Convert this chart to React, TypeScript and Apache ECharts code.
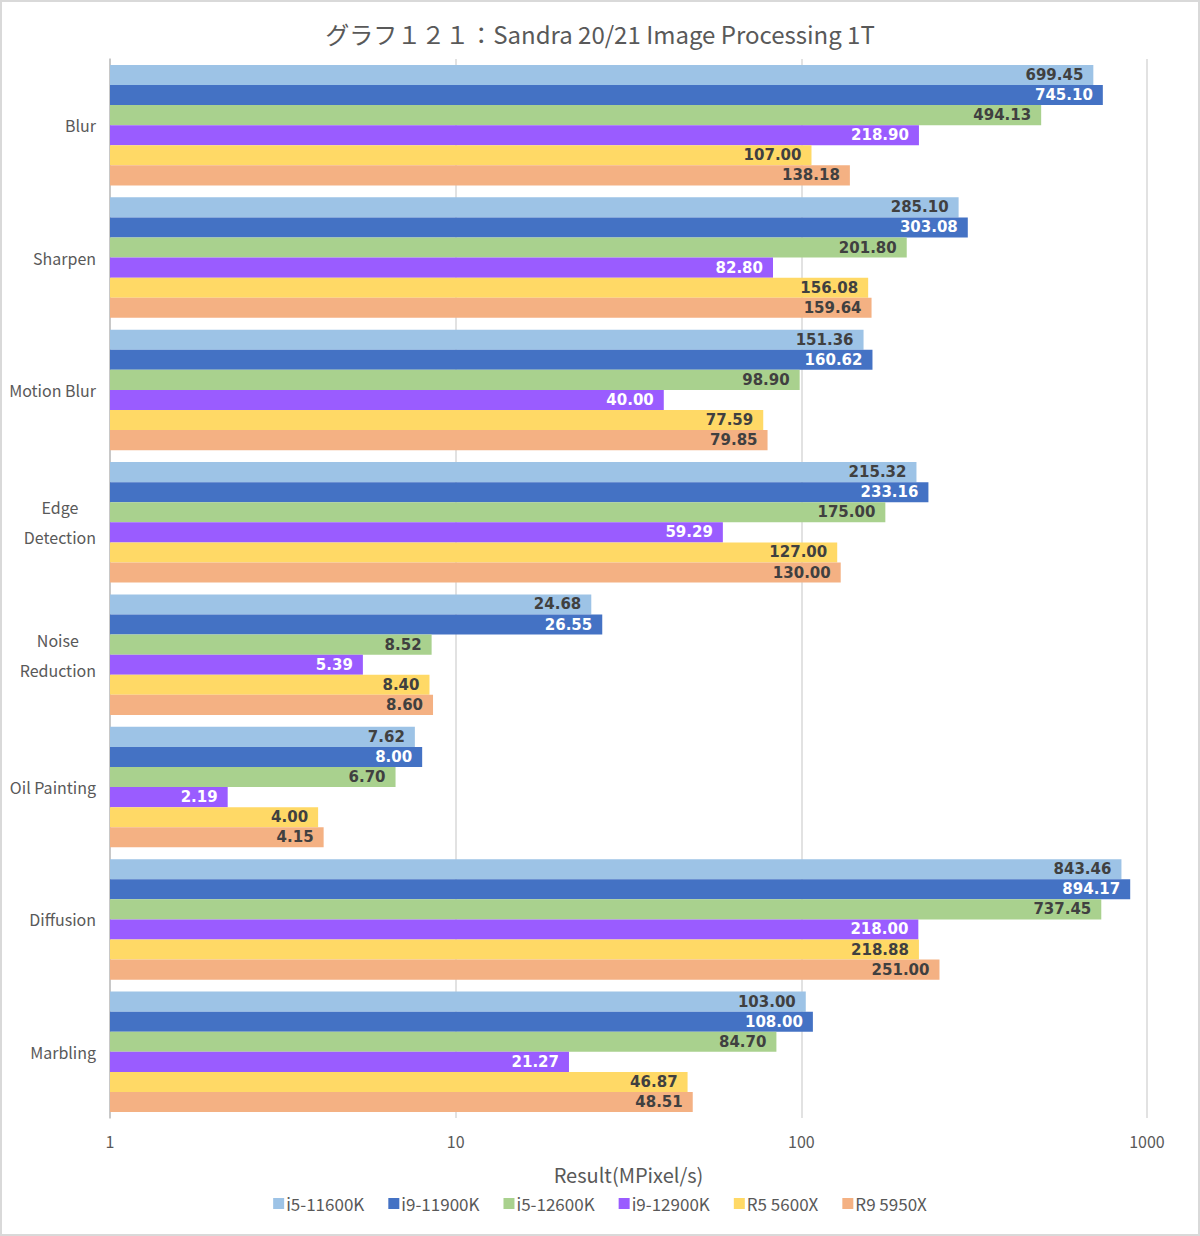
import React, { useEffect, useRef } from "react";
import * as echarts from "echarts";

const categories = ["Blur", "Sharpen", "Motion Blur", "Edge\nDetection", "Noise\nReduction", "Oil Painting", "Diffusion", "Marbling"];
const seriesNames = ["i5-11600K", "i9-11900K", "i5-12600K", "i9-12900K", "R5 5600X", "R9 5950X"];
const i5_11600K = [699.45, 285.1, 151.36, 215.32, 24.68, 7.62, 843.46, 103.0];
const i9_11900K = [745.1, 303.08, 160.62, 233.16, 26.55, 8.0, 894.17, 108.0];
const i5_12600K = [494.13, 201.8, 98.9, 175.0, 8.52, 6.7, 737.45, 84.7];
const i9_12900K = [218.9, 82.8, 40.0, 59.29, 5.39, 2.19, 218.0, 21.27];
const r5_5600X = [107.0, 156.08, 77.59, 127.0, 8.4, 4.0, 218.88, 46.87];
const r9_5950X = [138.18, 159.64, 79.85, 130.0, 8.6, 4.15, 251.0, 48.51];
const seriesData = [i5_11600K, i9_11900K, i5_12600K, i9_12900K, r5_5600X, r9_5950X];
const colors = ["#9dc3e6", "#4472c4", "#a9d18e", "#9a5cff", "#ffd966", "#f4b183"];
const labelColors = ["#404040", "#ffffff", "#404040", "#ffffff", "#404040", "#404040"];

export default function App() {
  const ref = useRef<HTMLDivElement>(null);
  useEffect(() => {
    const chart = echarts.init(ref.current!, null, { renderer: "svg" });
    const font = "'Noto Sans CJK JP', 'Noto Sans', sans-serif";
    chart.setOption({
      animation: false,
      backgroundColor: "#ffffff",
      title: {
        text: "グラフ１２１：Sandra 20/21 Image Processing 1T",
        left: "center",
        top: 14,
        textStyle: { fontFamily: font, fontSize: 24, fontWeight: "normal", color: "#595959" },
      },
      grid: { left: 108, right: 51, top: 57, bottom: 116, containLabel: false },
      legend: {
        bottom: 17,
        left: "center",
        itemWidth: 11,
        itemHeight: 11,
        itemGap: 24,
        icon: "rect",
        textStyle: { fontFamily: font, fontSize: 17, color: "#595959", padding: [0, 0, 0, -3] },
        data: seriesNames,
      },
      xAxis: {
        type: "log",
        logBase: 10,
        min: 1,
        max: 1000,
        name: "Result(MPixel/s)",
        nameLocation: "middle",
        nameGap: 46,
        nameTextStyle: { fontFamily: font, fontSize: 20, color: "#595959" },
        axisLine: { show: false },
        axisTick: { show: false },
        axisLabel: {
          fontFamily: font,
          fontSize: 16,
          color: "#595959",
          margin: 15,
          formatter: (v: number) => String(Math.round(v)),
        },
        splitLine: { show: true, lineStyle: { color: "#d9d9d9", width: 1.5 } },
      },
      yAxis: {
        type: "category",
        inverse: true,
        data: categories,
        axisLine: { show: true, lineStyle: { color: "#bfbfbf", width: 1.5 } },
        axisTick: { show: false },
        axisLabel: {
          fontFamily: font,
          fontSize: 16,
          color: "#595959",
          margin: 14,
          formatter: (v: string) => v.split("\n").map((s) => `{c|${s}}`).join("\n"),
          rich: { c: { align: "center", fontFamily: font, fontSize: 16, color: "#595959", lineHeight: 30 } },
        },
      },
      series: seriesNames.map((name, i) => ({
        name,
        type: "bar",
        data: seriesData[i],
        barGap: "0%",
        barCategoryGap: "9%",
        itemStyle: { color: colors[i] },
        label: {
          show: true,
          position: "insideRight",
          distance: 10,
          formatter: (p: any) => Number(p.value).toFixed(2),
          fontFamily: "'DejaVu Sans', sans-serif",
          fontWeight: "bold",
          fontSize: 15,
          color: labelColors[i],
        },
      })),
    });
    return () => chart.dispose();
  }, []);
  return (
    <div
      style={{
        position: "fixed",
        left: 0,
        top: 0,
        width: 1200,
        height: 1236,
        boxSizing: "border-box",
        border: "2px solid #d9d9d9",
        background: "#fff",
      }}
    >
      <div ref={ref} style={{ width: 1196, height: 1232 }} />
    </div>
  );
}
